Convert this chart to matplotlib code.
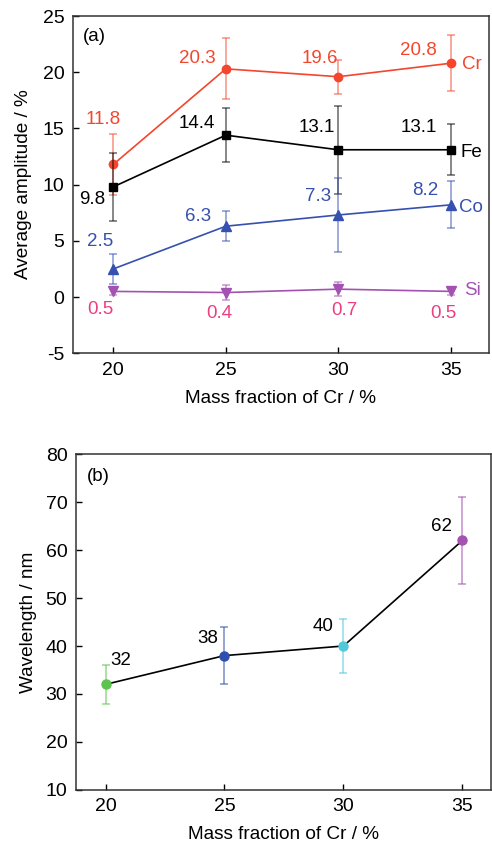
import matplotlib.pyplot as plt

plt.rcParams['font.family'] = ['Liberation Sans', 'DejaVu Sans']
plt.rcParams['axes.unicode_minus'] = False

# panel (a): average amplitude
cr_frac = [20, 25, 30, 35]
cr_amp = [11.8, 20.3, 19.6, 20.8]
cr_err = [2.7, 2.7, 1.5, 2.5]
fe_amp = [9.8, 14.4, 13.1, 13.1]
fe_err = [3.0, 2.4, 3.9, 2.25]
co_amp = [2.5, 6.3, 7.3, 8.2]
co_err = [1.3, 1.35, 3.3, 2.1]
si_amp = [0.5, 0.4, 0.7, 0.5]
si_err = [0.3, 0.7, 0.6, 0.3]

# panel (b): wavelength
wl = [32, 38, 40, 62]
wl_err = [4, 6, 5.7, 9]
wl_colors = ['#5cc44e', '#2f4fb0', '#55c8d8', '#a352b2']

red = '#f4462c'
blue = '#3650b0'
purple = '#a352b2'
pink = '#ee3d82'

# label centres (x, y) for the value annotations
cr_lab = [(19.55, 15.8), (23.72, 21.23), (29.19, 21.23), (33.57, 21.97)]
fe_lab = [(19.08, 8.68), (23.72, 15.44), (29.04, 15.09), (33.6, 15.09)]
co_lab = [(19.41, 4.9), (23.76, 7.13), (29.08, 8.91), (33.86, 9.5)]
si_lab = [(19.41, -1.12), (24.72, -1.5), (30.25, -1.24), (34.69, -1.5)]
wl_lab = [(20.66, 37.0), (24.3, 41.5), (29.13, 44.0), (34.13, 64.9)]

FS = 13.5


def style(ax):
    ax.tick_params(direction='in', labelsize=14, length=4, width=1,
                   top=False, right=False, pad=6)
    for s in ax.spines.values():
        s.set_linewidth(1.1)
        s.set_color('#333333')


def main():
    fig = plt.figure(figsize=(4.92, 8.43), dpi=100)
    ax1 = fig.add_axes([0.148, 0.581, 0.846, 0.400])
    ax2 = fig.add_axes([0.154, 0.0629, 0.844, 0.3985])

    series = [
        (cr_amp, cr_err, red, 'o', 6, 'Cr', red, cr_lab, (35.5, 20.7)),
        (fe_amp, fe_err, 'black', 's', 5.5, 'Fe', 'black', fe_lab, (35.43, 12.9)),
        (co_amp, co_err, blue, '^', 6.5, 'Co', blue, co_lab, (35.35, 7.96)),
        (si_amp, si_err, purple, 'v', 6.5, 'Si', pink, si_lab, (35.57, 0.54)),
    ]
    for y, e, c, m, ms, name, lc, labs, npos in series:
        ax1.errorbar(cr_frac, y, yerr=e, fmt='none', ecolor=c, alpha=0.55,
                     capsize=3, elinewidth=1.2, capthick=1.2)
        ax1.plot(cr_frac, y, color=c, marker=m, markersize=ms, lw=1.2)
        ax1.text(npos[0], npos[1], name, color=c, fontsize=FS, va='center', ha='left')
        for v, (lx, ly) in zip(y, labs):
            ax1.text(lx, ly, f'{v}', color=lc, fontsize=FS, ha='center', va='center')

    ax1.text(18.64, 23.16, '(a)', fontsize=FS, va='center')
    ax1.set_xlim(18.2, 36.7)
    ax1.set_ylim(-5, 25)
    ax1.set_xticks(cr_frac)
    ax1.set_yticks(range(-5, 26, 5))
    ax1.set_xlabel('Mass fraction of Cr / %', fontsize=13.7, labelpad=8)
    ax1.set_ylabel('Average amplitude / %', fontsize=13.7, labelpad=8)
    style(ax1)

    # panel b
    ax2.plot(cr_frac, wl, color='black', lw=1.2, zorder=2)
    for x, v, e, c in zip(cr_frac, wl, wl_err, wl_colors):
        ax2.errorbar(x, v, yerr=e, fmt='none', ecolor=c, alpha=0.6,
                     capsize=3, elinewidth=1.2, capthick=1.2, zorder=1)
        ax2.plot(x, v, 'o', color=c, markersize=6.5, zorder=3)
    for v, (lx, ly) in zip(wl, wl_lab):
        ax2.text(lx, ly, f'{v}', fontsize=FS, ha='center', va='center')

    ax2.text(19.21, 75.3, '(b)', fontsize=FS, va='center')
    ax2.set_xlim(18.75, 36.2)
    ax2.set_ylim(10, 80)
    ax2.set_xticks(cr_frac)
    ax2.set_yticks(range(10, 81, 10))
    ax2.set_xlabel('Mass fraction of Cr / %', fontsize=13.7, labelpad=8)
    ax2.set_ylabel('Wavelength / nm', fontsize=13.7, labelpad=6)
    style(ax2)

    fig.savefig('out.png', dpi=100)


main()
